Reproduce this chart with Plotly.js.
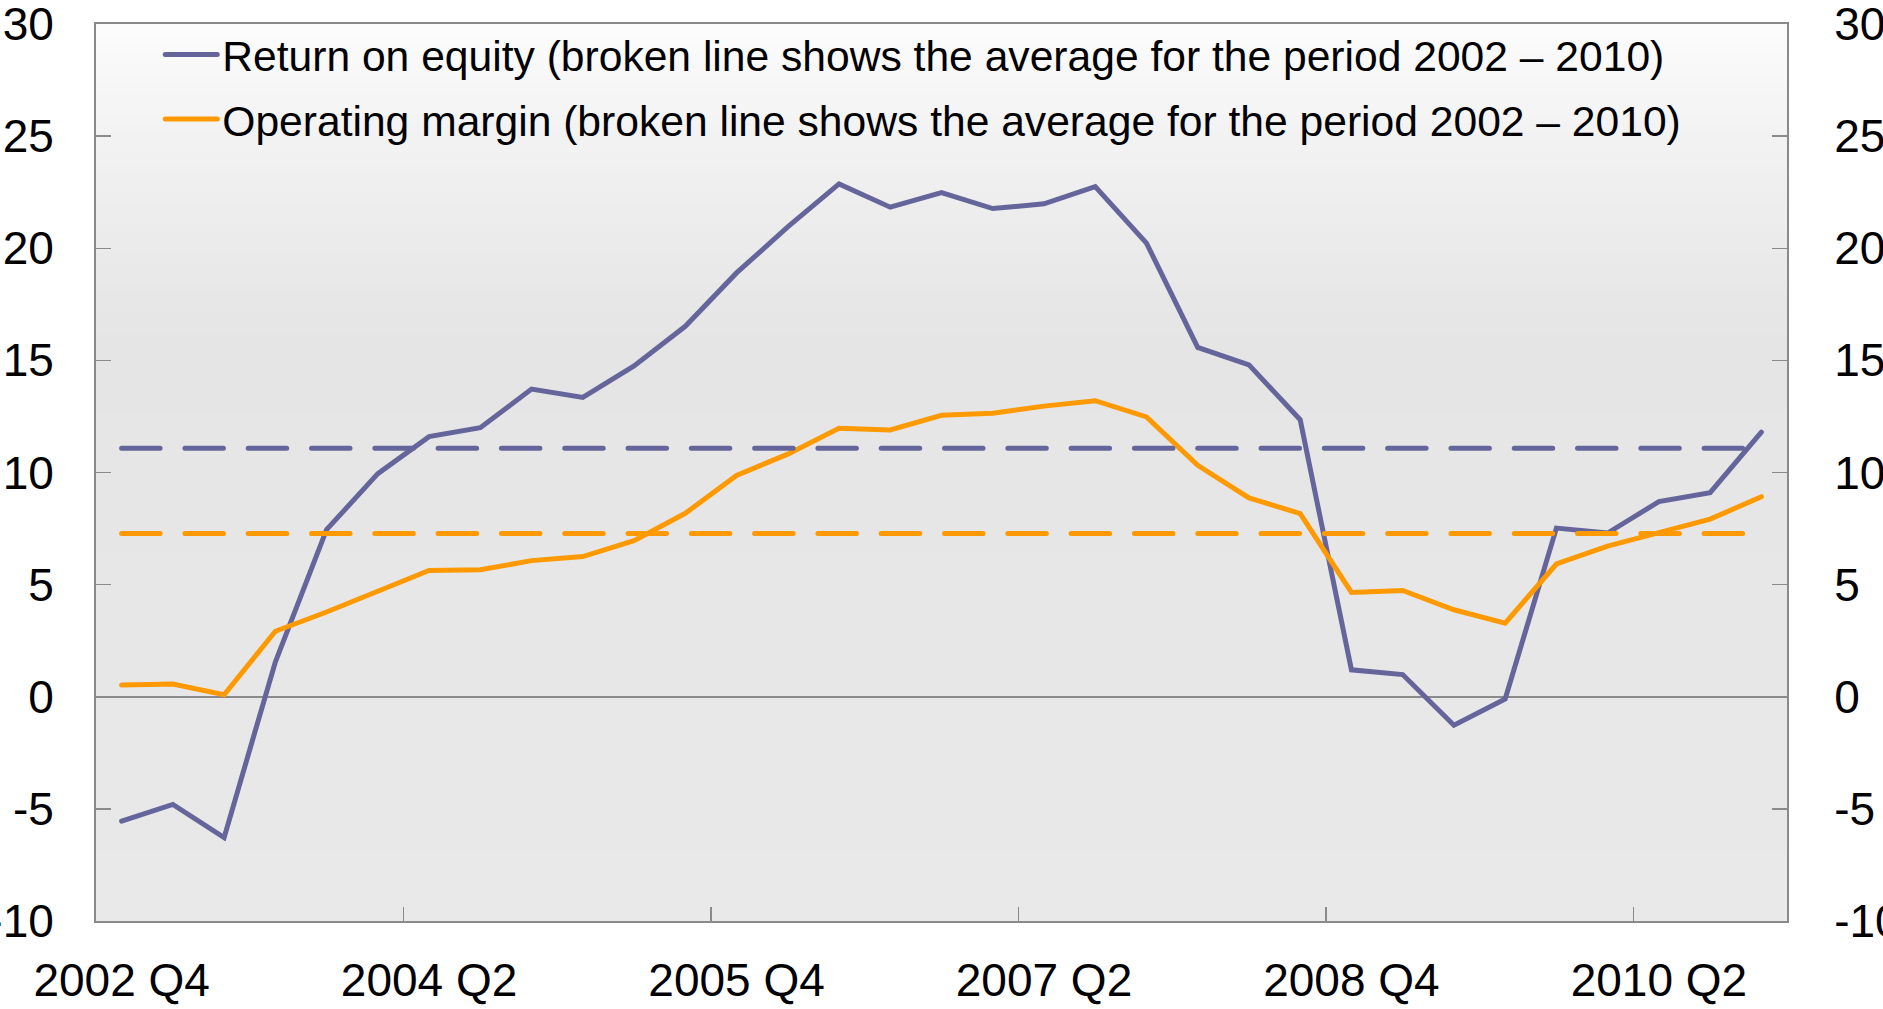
<!DOCTYPE html>
<html>
<head>
<meta charset="utf-8">
<script src="https://cdn.plot.ly/plotly-3.0.1.min.js"></script>
<style>
  html, body { margin: 0; padding: 0; background: #ffffff; }
  #chart { width: 1883px; height: 1009px; }
  #chart path.js-line { stroke-linecap: round; }
</style>
</head>
<body>
<div id="chart"></div>
<script>
// ---- data ----
const categories = [
  '2002 Q4',
  '2003 Q1','2003 Q2','2003 Q3','2003 Q4',
  '2004 Q1','2004 Q2','2004 Q3','2004 Q4',
  '2005 Q1','2005 Q2','2005 Q3','2005 Q4',
  '2006 Q1','2006 Q2','2006 Q3','2006 Q4',
  '2007 Q1','2007 Q2','2007 Q3','2007 Q4',
  '2008 Q1','2008 Q2','2008 Q3','2008 Q4',
  '2009 Q1','2009 Q2','2009 Q3','2009 Q4',
  '2010 Q1','2010 Q2','2010 Q3','2010 Q4'
];
const returnOnEquity = [
  -5.55, -4.8, -6.28, 1.55, 7.45, 9.95, 11.6, 12.0, 13.72, 13.35, 14.75,
  16.52, 18.9, 20.95, 22.87, 21.83, 22.48, 21.77, 21.98, 22.75, 20.23,
  15.58, 14.8, 12.35, 1.2, 0.99, -1.27, -0.1, 7.52, 7.3, 8.7, 9.1, 11.8
];
const operatingMargin = [
  0.52, 0.57, 0.09, 2.92, 3.78, 4.7, 5.63, 5.66, 6.07, 6.25, 6.96,
  8.18, 9.87, 10.82, 11.97, 11.9, 12.55, 12.64, 12.96, 13.2, 12.48,
  10.32, 8.87, 8.17, 4.65, 4.74, 3.88, 3.28, 5.92, 6.72, 7.32, 7.92, 8.92
];
const averageReturnOnEquity = 11.08;
const averageOperatingMargin = 7.28;
const xTickLabels = ['2002 Q4','2004 Q2','2005 Q4','2007 Q2','2008 Q4','2010 Q2'];
const yTickValues = [-10, -5, 0, 5, 10, 15, 20, 25, 30];
const yTickText = ['-10', '-5', '0', '5', '10', '15', '20', '25', '30'];
const seriesNames = [
  'Return on equity (broken line shows the average for the period 2002 \u2013 2010)',
  'Operating margin (broken line shows the average for the period 2002 \u2013 2010)'
];
const tickMarkEvery = 6;

// ---- styles ----
const purple = '#65659b';
const orange = '#ff9900';
const axisGrey = '#8a8a8a';
const fontFamily = '"Liberation Sans", Arial, sans-serif';
const lineW = 5;
const dashStyle = '38.5px,24.8px';

const firstCat = categories[0];
const lastCat = categories[categories.length - 1];

const traces = [
  { x: categories, y: returnOnEquity, name: seriesNames[0], type: 'scatter', mode: 'lines',
    line: { color: purple, width: lineW }, legendgroup: 'a', xaxis: 'x', yaxis: 'y' },
  { x: categories, y: operatingMargin, name: seriesNames[1], type: 'scatter', mode: 'lines',
    line: { color: orange, width: lineW }, legendgroup: 'b', xaxis: 'x', yaxis: 'y' },
  { x: [firstCat, lastCat], y: [averageReturnOnEquity, averageReturnOnEquity], type: 'scatter', mode: 'lines',
    line: { color: purple, width: lineW, dash: dashStyle }, showlegend: false, hoverinfo: 'skip' },
  { x: [firstCat, lastCat], y: [averageOperatingMargin, averageOperatingMargin], type: 'scatter', mode: 'lines',
    line: { color: orange, width: lineW, dash: dashStyle }, showlegend: false, hoverinfo: 'skip' }
];

// background gradient bands (plot area)
const shapes = [];
const nBands = 90;
function lerp(a, b, t) { return a + (b - a) * t; }
for (let i = 0; i < nBands; i++) {
  const t0 = i / nBands, t1 = (i + 1) / nBands;
  const tm = (t0 + t1) / 2;
  let g;
  if (tm < 0.35) g = lerp(253, 229, Math.pow(tm / 0.35, 0.8));
  else g = lerp(229, 233, (tm - 0.35) / 0.65);
  g = Math.round(g);
  shapes.push({ type: 'rect', xref: 'paper', yref: 'paper', x0: 0, x1: 1,
    y0: 1 - t1 - 0.0005, y1: 1 - t0 + 0.0005, fillcolor: `rgb(${g},${g},${g})`,
    line: { width: 0 }, layer: 'below' });
}

// boundary tick positions (between categories), every 6 quarters
const boundaryTicks = [];
for (let i = tickMarkEvery; i < categories.length; i += tickMarkEvery) boundaryTicks.push(i - 0.5);

const tickFont = { family: fontFamily, size: 46, color: '#000000' };

const layout = {
  width: 1883, height: 1009,
  margin: { l: 96, r: 96, t: 24, b: 88, pad: 0 },
  paper_bgcolor: '#ffffff',
  plot_bgcolor: 'rgba(0,0,0,0)',
  font: { family: fontFamily, size: 46, color: '#000000' },
  showlegend: true,
  legend: {
    x: 0.038, y: 1.004, xanchor: 'left', yanchor: 'top',
    bgcolor: 'rgba(0,0,0,0)', borderwidth: 0,
    font: { family: fontFamily, size: 42.6, color: '#000000' },
    itemwidth: 52, tracegroupgap: 6
  },
  xaxis: {
    type: 'category', categoryorder: 'array', categoryarray: categories,
    range: [-0.5, categories.length - 0.5],
    tickmode: 'array', tickvals: xTickLabels, ticktext: xTickLabels,
    ticks: '', showgrid: false, zeroline: false,
    showline: true, linecolor: axisGrey, linewidth: 2, mirror: true,
    ticklabelstandoff: 18, ticklabeloverflow: 'allow',
    tickfont: tickFont
  },
  xaxis2: {
    overlaying: 'x', anchor: 'y', type: 'linear',
    range: [-0.5, categories.length - 0.5],
    tickmode: 'array', tickvals: boundaryTicks, showticklabels: false,
    ticks: 'inside', ticklen: 14, tickwidth: 1.5, tickcolor: axisGrey,
    showgrid: false, zeroline: false, showline: false
  },
  yaxis: {
    range: [-10, 30], tickmode: 'array', tickvals: yTickValues, ticktext: yTickText,
    ticks: 'inside', ticklen: 15, tickwidth: 1.5, tickcolor: axisGrey,
    showgrid: false, zeroline: true, zerolinecolor: axisGrey, zerolinewidth: 1.5,
    showline: true, linecolor: axisGrey, linewidth: 2,
    ticklabelstandoff: 31, ticklabeloverflow: 'allow',
    tickfont: tickFont
  },
  yaxis2: {
    overlaying: 'y', side: 'right', anchor: 'x', range: [-10, 30],
    tickmode: 'array', tickvals: yTickValues, ticktext: yTickText,
    ticks: 'inside', ticklen: 15, tickwidth: 1.5, tickcolor: axisGrey,
    showgrid: false, zeroline: false,
    showline: true, linecolor: axisGrey, linewidth: 2,
    ticklabelstandoff: 36, ticklabeloverflow: 'allow',
    tickfont: tickFont
  },
  shapes: shapes
};

// invisible trace so the secondary axes (right y axis, boundary tick marks) are drawn
traces.push({ x: [0], y: [0], xaxis: 'x2', yaxis: 'y2', type: 'scatter', mode: 'markers',
  marker: { opacity: 0 }, showlegend: false, hoverinfo: 'skip' });

Plotly.newPlot('chart', traces, layout, { staticPlot: true });
</script>
</body>
</html>
